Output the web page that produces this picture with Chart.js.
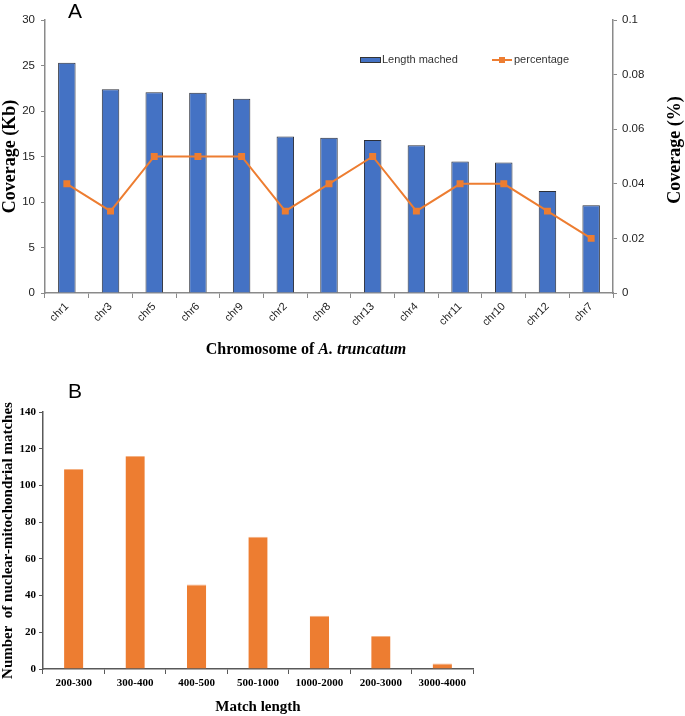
<!DOCTYPE html>
<html>
<head>
<meta charset="utf-8">
<script src="https://cdn.jsdelivr.net/npm/chart.js@4.4.0/dist/chart.umd.min.js"></script>
<style>
  body { margin: 0; background: #fff; }
  #wrapA { position: absolute; left: 0; top: 0; width: 685px; height: 378px; }
  #wrapB { position: absolute; left: 0; top: 380px; width: 490px; height: 336px; }
</style>
</head>
<body>
<div id="wrapA"><canvas id="chartA"></canvas></div>
<div id="wrapB"><canvas id="chartB"></canvas></div>
<script>
// panel A
const chromosomes = ['chr1', 'chr3', 'chr5', 'chr6', 'chr9', 'chr2', 'chr8', 'chr13', 'chr4', 'chr11', 'chr10', 'chr12', 'chr7'];
const lengthMatched = [25.3, 22.4, 22.05, 22.0, 21.35, 17.2, 17.05, 16.8, 16.25, 14.45, 14.35, 11.2, 9.65];
const percentage = [0.04, 0.03, 0.05, 0.05, 0.05, 0.03, 0.04, 0.05, 0.03, 0.04, 0.04, 0.03, 0.02];

// panel B
const matchLengths = ['200-300', '300-400', '400-500', '500-1000', '1000-2000', '200-3000', '3000-4000'];
const matchCounts = [109, 116, 46, 72, 29, 18, 3];

const BLUE = '#4472C4';
const ORANGE = '#ED7D31';
const AXIS = '#8a8a8a';
const SANS = '"Liberation Sans", Arial, sans-serif';
const SERIF = '"Liberation Serif", "Times New Roman", serif';

Chart.defaults.animation = false;
Chart.defaults.color = '#222';

// extra text for panel A: letter, legend, x title (mixed italic), right title
const panelAText = {
  id: 'panelAText',
  afterDraw(chart) {
    const ctx = chart.ctx;
    ctx.save();
    ctx.fillStyle = '#000';
    ctx.font = '21px ' + SANS;
    ctx.textBaseline = 'alphabetic';
    ctx.fillText('A', 68, 18);

    // legend
    ctx.fillStyle = BLUE;
    ctx.strokeStyle = '#333';
    ctx.lineWidth = 1;
    ctx.fillRect(360.5, 57.5, 20, 5);
    ctx.strokeRect(360.5, 57.5, 20, 5);
    ctx.fillStyle = '#333';
    ctx.font = '11px ' + SANS;
    ctx.textBaseline = 'middle';
    ctx.fillText('Length mached', 382, 60);
    ctx.strokeStyle = ORANGE;
    ctx.lineWidth = 2;
    ctx.beginPath();
    ctx.moveTo(492, 60);
    ctx.lineTo(512, 60);
    ctx.stroke();
    ctx.fillStyle = ORANGE;
    ctx.fillRect(499, 57, 6, 6);
    ctx.fillStyle = '#333';
    ctx.fillText('percentage', 514, 60);

    // x title
    ctx.fillStyle = '#000';
    const part1 = 'Chromosome of ';
    const part2 = 'A. truncatum';
    ctx.font = 'bold 16px ' + SERIF;
    const w1 = ctx.measureText(part1).width;
    ctx.font = 'italic bold 16px ' + SERIF;
    const w2 = ctx.measureText(part2).width;
    let x0 = 306 - (w1 + w2) / 2;
    ctx.font = 'bold 16px ' + SERIF;
    ctx.fillText(part1, x0, 350);
    ctx.font = 'italic bold 16px ' + SERIF;
    ctx.fillText(part2, x0 + w1, 350);

    // right title, reading bottom to top
    ctx.translate(675, 150);
    ctx.rotate(-Math.PI / 2);
    ctx.textAlign = 'center';
    ctx.font = 'bold 18px ' + SERIF;
    ctx.fillText('Coverage (%)', 0, 0);
    ctx.restore();
  }
};

new Chart(document.getElementById('chartA'), {
  type: 'bar',
  data: {
    labels: chromosomes,
    datasets: [
      {
        type: 'line',
        label: 'percentage',
        data: percentage,
        yAxisID: 'y1',
        borderColor: ORANGE,
        backgroundColor: ORANGE,
        borderWidth: 2,
        pointStyle: 'rect',
        pointRadius: 3.5,
        tension: 0,
        order: 0
      },
      {
        label: 'Length mached',
        data: lengthMatched,
        yAxisID: 'y',
        backgroundColor: BLUE,
        borderColor: '#2b2f3a',
        borderWidth: 1,
        barPercentage: 0.4,
        categoryPercentage: 1,
        order: 1
      }
    ]
  },
  options: {
    responsive: true,
    maintainAspectRatio: false,
    layout: { padding: { top: 20, bottom: 0, left: 0, right: 0 } },
    plugins: {
      legend: { display: false },
      tooltip: { enabled: false }
    },
    scales: {
      x: {
        grid: { drawOnChartArea: false, color: AXIS, tickLength: 5 },
        border: { color: AXIS, width: 1.5 },
        ticks: {
          minRotation: 45,
          maxRotation: 45,
          font: { family: SANS, size: 11 },
          padding: 2
        },
        afterFit(scale) { scale.height = 85; }
      },
      y: {
        position: 'left',
        min: 0,
        max: 30,
        ticks: { stepSize: 5, font: { family: SANS, size: 11.5 }, padding: 6 },
        grid: { drawOnChartArea: false, color: AXIS, tickLength: 4 },
        border: { color: AXIS, width: 1.5 },
        title: {
          display: true,
          text: 'Coverage (Kb)',
          color: '#000',
          font: { family: SERIF, size: 18, weight: 'bold', lineHeight: 1.1 },
          padding: { top: 0, bottom: 0 }
        },
        afterFit(scale) { scale.width = 45; }
      },
      y1: {
        position: 'right',
        min: 0,
        max: 0.1,
        ticks: {
          stepSize: 0.02,
          font: { family: SANS, size: 11.5 },
          padding: 5,
          callback: (v) => String(+v.toFixed(2))
        },
        grid: { drawOnChartArea: false, color: AXIS, tickLength: 4 },
        border: { color: AXIS, width: 1.5 },
        afterFit(scale) { scale.width = 72; }
      }
    }
  },
  plugins: [panelAText]
});

const panelBText = {
  id: 'panelBText',
  afterDraw(chart) {
    const ctx = chart.ctx;
    ctx.save();
    ctx.fillStyle = '#000';
    ctx.font = '21px ' + SANS;
    ctx.fillText('B', 68, 18);
    ctx.restore();
  }
};

new Chart(document.getElementById('chartB'), {
  type: 'bar',
  data: {
    labels: matchLengths,
    datasets: [{
      label: 'matches',
      data: matchCounts,
      backgroundColor: ORANGE,
      borderColor: '#f4b183',
      borderWidth: { top: 1, left: 0, right: 0, bottom: 0 },
      barPercentage: 0.314,
      categoryPercentage: 1
    }]
  },
  options: {
    responsive: true,
    maintainAspectRatio: false,
    layout: { padding: { top: 32, bottom: 0, left: 0, right: 17 } },
    plugins: {
      legend: { display: false },
      tooltip: { enabled: false }
    },
    scales: {
      x: {
        grid: { drawOnChartArea: false, color: '#595959', tickLength: 5 },
        border: { color: '#595959', width: 1.5 },
        ticks: {
          maxRotation: 0,
          autoSkip: false,
          color: '#000',
          font: { family: SERIF, size: 11, weight: 'bold' },
          padding: 3
        },
        title: {
          display: true,
          text: 'Match length',
          color: '#000',
          font: { family: SERIF, size: 15, weight: 'bold' },
          padding: { top: 0, bottom: 0 }
        },
        afterFit(scale) { scale.height = 47; }
      },
      y: {
        min: 0,
        max: 140,
        ticks: {
          stepSize: 20,
          color: '#000',
          font: { family: SERIF, size: 11, weight: 'bold' },
          padding: 3
        },
        grid: { drawOnChartArea: false, color: '#595959', tickLength: 4 },
        border: { color: '#595959', width: 1.5 },
        title: {
          display: true,
          text: 'Number  of nuclear-mitochondrial matches',
          color: '#000',
          font: { family: SERIF, size: 15, weight: 'bold', lineHeight: 1.1 },
          padding: { top: 0, bottom: 0 }
        },
        afterFit(scale) { scale.width = 43; }
      }
    }
  },
  plugins: [panelBText]
});
</script>
</body>
</html>
